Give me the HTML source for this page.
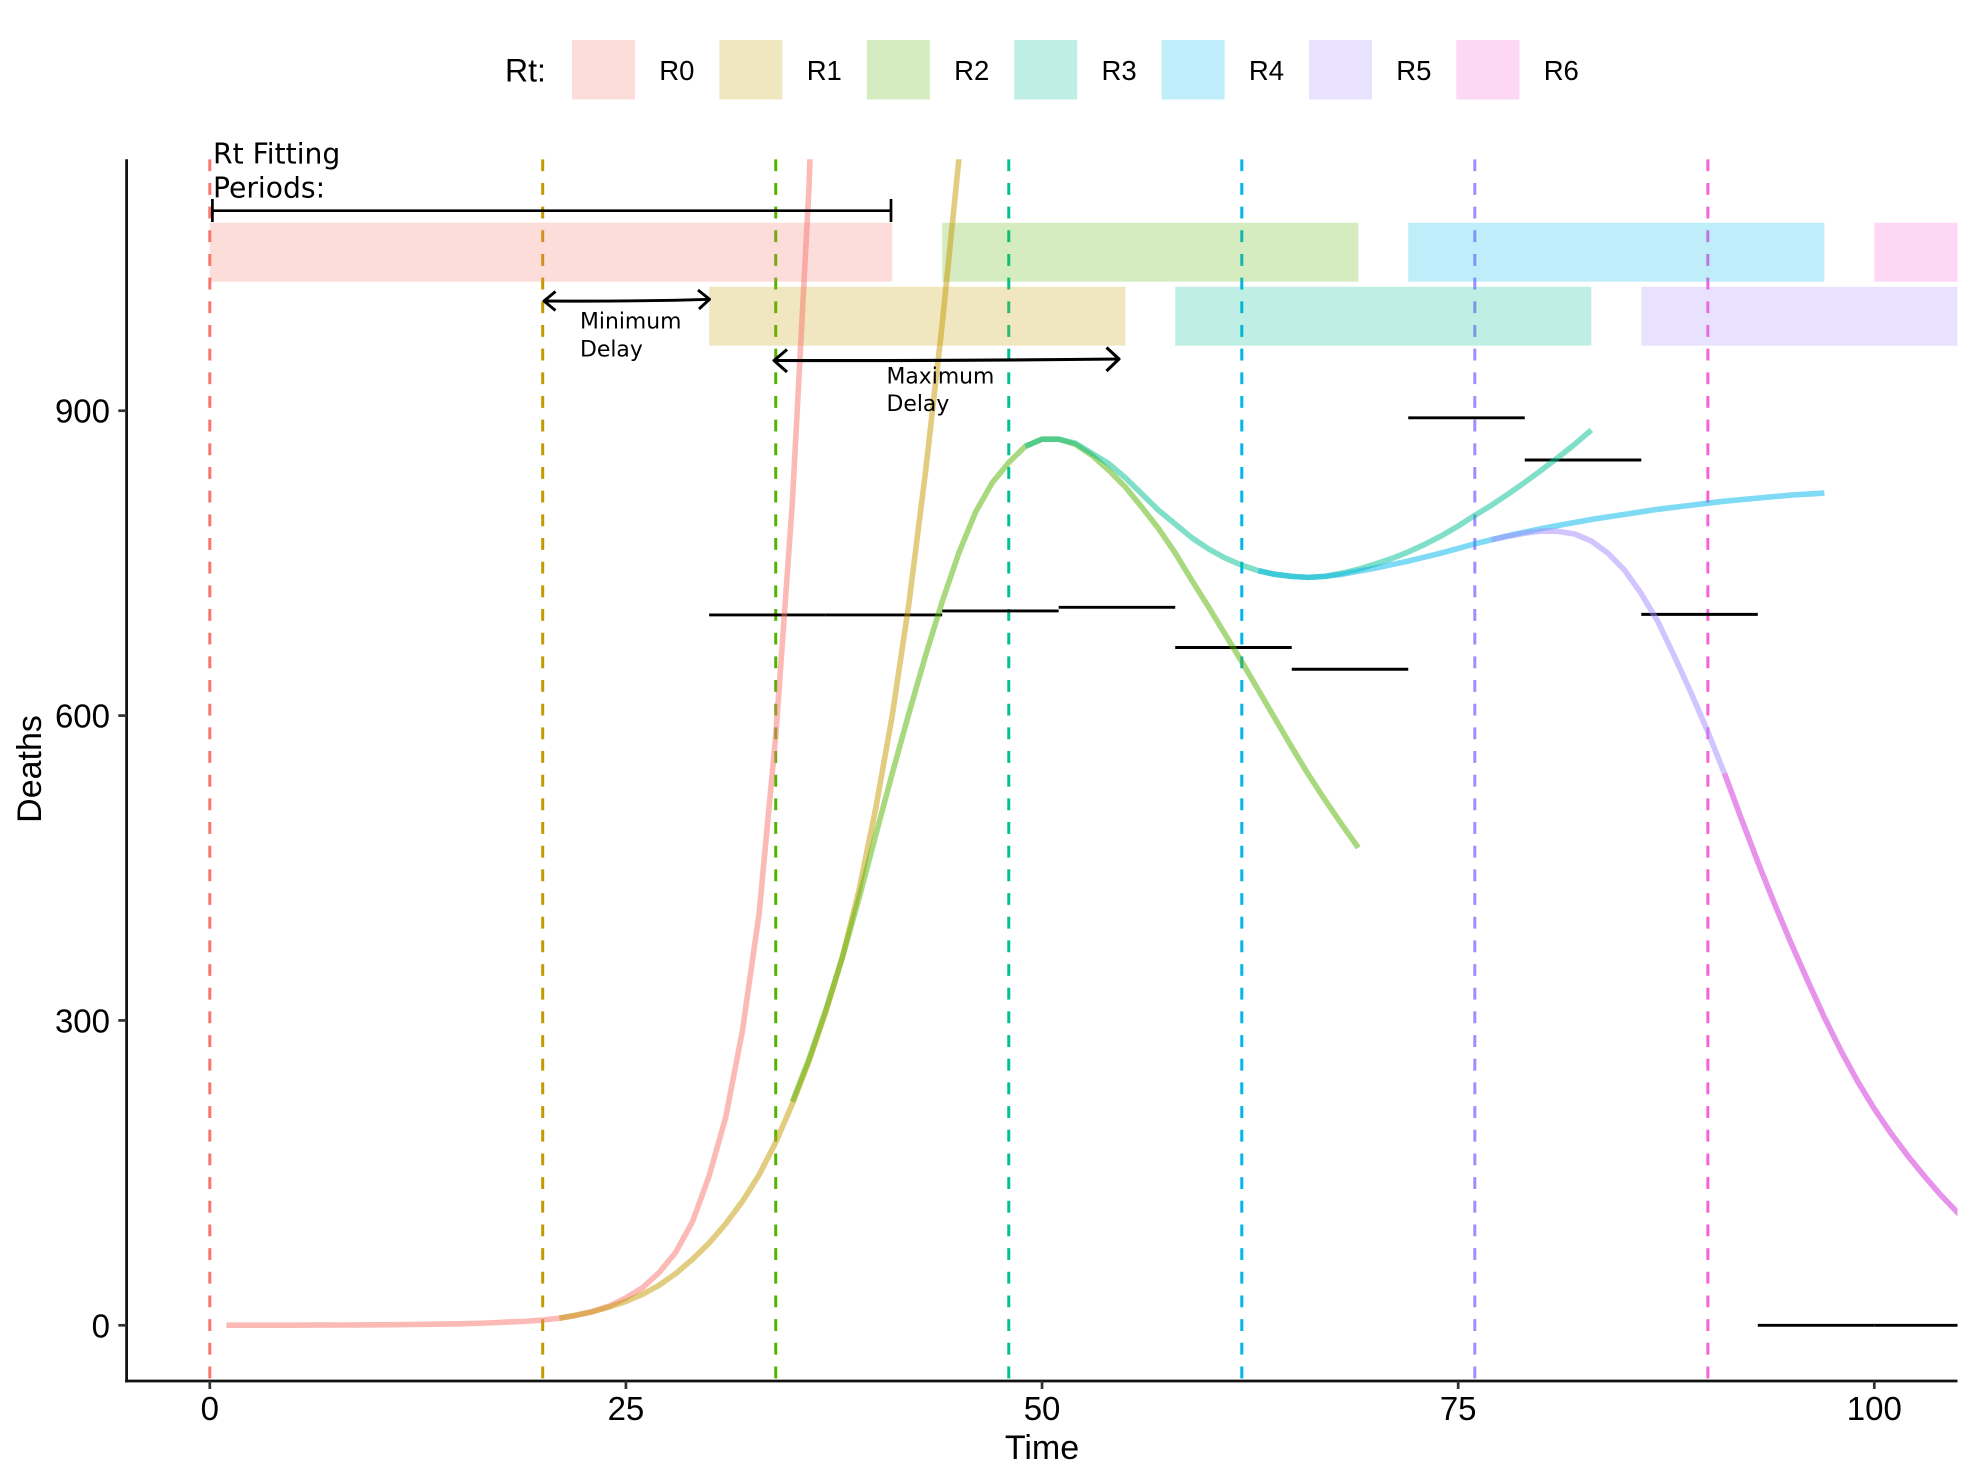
<!DOCTYPE html>
<html lang="en">
<head>
<meta charset="utf-8">
<title>Deaths over time with Rt fitting periods</title>
<style>
html,body{margin:0;padding:0;background:#fff;}
svg{display:block;}
.sans{font-family:"Liberation Sans",Arial,sans-serif;fill:#000;}
.dj{font-family:"DejaVu Sans",sans-serif;fill:#000;}
</style>
</head>
<body>
<svg id="chart" xmlns="http://www.w3.org/2000/svg" width="1973" height="1484" viewBox="0 0 1973 1484">
  <rect x="0" y="0" width="1973" height="1484" fill="#ffffff"/>
  <defs>
    <clipPath id="plot-clip"><rect x="126.6" y="159.3" width="1830.9" height="1222"/></clipPath>
  </defs>
  <g id="legend"></g>
  <g id="plot" clip-path="url(#plot-clip)"></g>
  <g id="axes"></g>

  <g>
    <text class="dj" x="213" y="163.5" font-size="28.2">Rt Fitting</text>
    <text class="dj" x="213" y="197.5" font-size="28.2">Periods:</text>
    <g stroke="#000" stroke-width="2.7" fill="none">
      <path d="M212.4 210.7H891"/>
      <path d="M212.4 199V222"/>
      <path d="M891 199V222"/>
    </g>
    <g stroke="#000" stroke-width="2.9" fill="none" stroke-linejoin="round">
      <path d="M544 301Q640 301.6 709.5 299.3"/>
      <path d="M555.5 291.5L544 301L555.5 310.5"/>
      <path d="M698 290L709.5 299.3L699 309"/>
    </g>
    <text class="dj" x="580" y="328.5" font-size="21.9">Minimum</text>
    <text class="dj" x="580" y="356.3" font-size="21.9">Delay</text>
    <g stroke="#000" stroke-width="3.1" fill="none" stroke-linejoin="round">
      <path d="M774 360.5Q950 361 1119 359"/>
      <path d="M787 349.5L774 360.5L787 372"/>
      <path d="M1106.5 347.5L1119 359L1106.5 371"/>
    </g>
    <text class="dj" x="886.5" y="383.3" font-size="21.9">Maximum</text>
    <text class="dj" x="886.5" y="411" font-size="21.9">Delay</text>
  </g>
</svg>

<script>
// ---- chart data ----
const rtLabels = ['R0','R1','R2','R3','R4','R5','R6'];
const rtColors = ['#F8766D','#C49A00','#53B400','#00C094','#00B6EB','#A58AFF','#FB61D7'];
const rtDates = [0,20,34,48,62,76,90];

const periodStart = [0,30,44,58,72,86,100];
const periodEnd = [41,55,69,83,97,111,125];
const periodLower = [1027,964,1027,964,1027,964,1027];
const periodUpper = [1085,1022,1085,1022,1085,1022,1085];

const obsStart = [30,37,44,51,58,65,72,79,86,93,100];
const obsEnd = [37,44,51,58,65,72,79,86,93,100,107];
const obsDeaths = [699,699,703,706.5,667,645.6,893,851.5,699.6,0,0];

const seriesStartTime = [1,21,35,49,63,77,91];
const r0Values = [0.1,0.1,0.1,0.1,0.1,0.2,0.2,0.3,0.4,0.5,0.6,0.8,1,1.2,1.5,1.9,2.5,3.3,4,5.2,7,9.7,13.5,19,27,37,52,72,102,147,205,290,405,580,810,1120,1620];
const r1Values = [7,10,13.5,18,23.5,30.5,39.5,51,65,81,100,122,148,180,218,260,308,362,428,508,600,710,840,985,1147,1330];
const r2Values = [220,262,310,362,420,482,543,602,659,712,760,800,829,849,865,872,872,867,856,841.5,825,805,784,760,733,707,680,653,625,597,569,542,517,493,470];
const r3Values = [865,872,872,868,858,848,834,818,802,788.5,775,764,755,748,742.5,739,737,736,737,740,744,749,754.5,761,768.5,777,786.5,797,807,818,829.5,841.5,854,867,881];
const r4Values = [742.5,739,737,736,737,739,742,745,748.5,752,756,760,764.5,769,773,777,780.5,784,787,790,793,795.5,798,800.5,803,805,807,809,811,812.5,814,815.5,817,818,819];
const r5Values = [773,776.5,779.5,781.6,781.3,778.7,771.8,759.7,743,720,692.4,658,622,584,543,499,456,415,376,339,303,270,240,213,189,167,147,128,111,96];
const r6Values = [543,499,456,415,376,339,303,270,240,213,189,167,147,128,111,96];

const xTickValues = [0,25,50,75,100];
const yTickValues = [0,300,600,900];

// ---- axis functions ----
function xScale(t){ return 209.8 + 16.645 * t; }
function yScale(v){ return 1325.3 - 1.0162 * v; }

const SVGNS = 'http://www.w3.org/2000/svg';
function make(tag, attrs, parent){
  const el = document.createElementNS(SVGNS, tag);
  for (const k in attrs) el.setAttribute(k, attrs[k]);
  parent.appendChild(el);
  return el;
}

const legend = document.getElementById('legend');
const plot = document.getElementById('plot');
const axes = document.getElementById('axes');

// ---- legend ----
const legendTitle = make('text', {x: 505, y: 81.5, 'font-size': 32, class: 'sans'}, legend);


legendTitle.textContent = 'Rt:';

rtLabels.forEach(function(label, i){
  const swatch = make('rect', {x: 572 + 147.4 * i, y: 40, width: 63, height: 59.5, fill: rtColors[i], 'fill-opacity': 0.25}, legend);
  
  
  const text = make('text', {x: 659.3 + 147.4 * i, y: 80, 'font-size': 27.5, class: 'sans'}, legend);
  
  
  text.textContent = label;
});

// ---- vertical dashed Rt dates ----
rtDates.forEach(function(t, i){
  const line = make('line', {x1: xScale(t), x2: xScale(t), y1: 159.3, y2: 1381, stroke: rtColors[i], 'stroke-width': 3, 'stroke-dasharray': '11.85 11.82'}, plot);
  
  
});

// ---- observed deaths segments ----
obsDeaths.forEach(function(v, i){
  const seg = make('line', {x1: xScale(obsStart[i]), x2: xScale(obsEnd[i]), y1: yScale(v), y2: yScale(v), stroke: '#000', 'stroke-width': 2.9}, plot);
  
  
});

// ---- fitting period bars ----
periodStart.forEach(function(s, i){
  const bar = make('rect', {
    x: xScale(s),
    y: yScale(periodUpper[i]),
    width: xScale(periodEnd[i]) - xScale(s),
    height: yScale(periodLower[i]) - yScale(periodUpper[i]),
    fill: rtColors[i],
    'fill-opacity': 0.25
  }, plot);
  
  
});

// ---- model curves ----
const allSeries = [r0Values, r1Values, r2Values, r3Values, r4Values, r5Values, r6Values];
allSeries.forEach(function(values, i){
  const d = values.map(function(v, k){
    const t = seriesStartTime[i] + k;
    return (k ? 'L' : 'M') + xScale(t).toFixed(2) + ' ' + yScale(v).toFixed(2);
  }).join('');
  const path = make('path', {d: d, fill: 'none', stroke: rtColors[i], 'stroke-opacity': 0.5, 'stroke-width': 5.6, 'stroke-linejoin': 'round', 'stroke-linecap': 'butt'}, plot);
  
  
});

// ---- axes ----
const yAxisLine = make('line', {x1: 126.6, x2: 126.6, y1: 159.3, y2: 1382.5, stroke: '#111', 'stroke-width': 2.8}, axes);


const xAxisLine = make('line', {x1: 125.2, x2: 1957.5, y1: 1381, y2: 1381, stroke: '#111', 'stroke-width': 2.8}, axes);



xTickValues.forEach(function(v){
  const tick = make('line', {x1: xScale(v), x2: xScale(v), y1: 1381, y2: 1389, stroke: '#333', 'stroke-width': 2.7}, axes);
  
  
  const label = make('text', {x: xScale(v), y: 1420, 'text-anchor': 'middle', 'font-size': 33, class: 'sans'}, axes);
  
  
  label.textContent = String(v);
});

yTickValues.forEach(function(v){
  const tick = make('line', {x1: 118.3, x2: 126.6, y1: yScale(v), y2: yScale(v), stroke: '#333', 'stroke-width': 2.7}, axes);
  
  
  const label = make('text', {x: 110, y: yScale(v) + 12, 'text-anchor': 'end', 'font-size': 33, class: 'sans'}, axes);
  
  
  label.textContent = String(v);
});

const xTitle = make('text', {x: 1042, y: 1459, 'text-anchor': 'middle', 'font-size': 34, class: 'sans'}, axes);


xTitle.textContent = 'Time';

const yTitle = make('text', {x: 0, y: 0, transform: 'translate(41 769) rotate(-90)', 'text-anchor': 'middle', 'font-size': 34, class: 'sans'}, axes);


yTitle.textContent = 'Deaths';
</script>
</body>
</html>
